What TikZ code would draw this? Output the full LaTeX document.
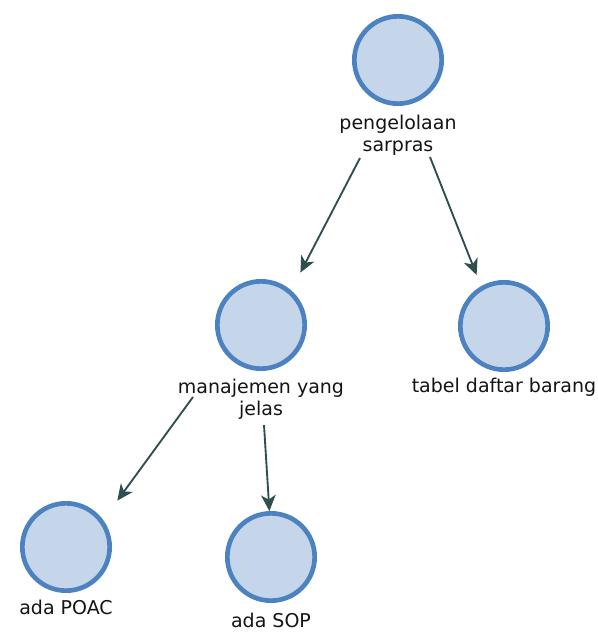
\documentclass[tikz,border=0pt]{standalone}
\usepackage{fontspec}
\setmainfont{DejaVu Sans}
\usetikzlibrary{arrows.meta,calc}

\definecolor{nodefill}{RGB}{197,214,234}
\definecolor{nodeline}{RGB}{76,130,192}
\definecolor{linkcol}{RGB}{47,79,79}
\definecolor{textcol}{RGB}{20,20,20}

\tikzset{every picture/.style={line width=0.75pt}}
\tikzset{
  bubble/.style={circle, draw=nodeline, fill=nodefill, line width=3.5pt, minimum size=65.5pt, inner sep=0pt},
  caption/.style={align=center, text=textcol, font=\fontsize{14.25pt}{16.5pt}\selectfont, inner sep=0pt},
  link/.style={draw=linkcol, line width=1.4pt, -{Stealth[length=12pt,width=11pt,inset=3.5pt]}}
}

\begin{document}
\begin{tikzpicture}[x=0.75pt,y=0.75pt,yscale=-1,xscale=1]
\useasboundingbox (0,0) rectangle (598,633);

%Shape: Circle [id:pengelolaan]
\node (c1) at (398,60) [bubble] {};
%Shape: Circle [id:manajemen]
\node (c2) at (261,325) [bubble] {};
%Shape: Circle [id:tabel]
\node (c3) at (504,326) [bubble] {};
%Shape: Circle [id:poac]
\node (c4) at (66,547) [bubble] {};
%Shape: Circle [id:sop]
\node (c5) at (271,557) [bubble] {};

% Text Node
\node (l1) at (398,135) [caption] {pengelolaan\\sarpras};
% Text Node
\node (l2) at (261,399) [caption] {manajemen yang\\jelas};
% Text Node
\node (l3) at (504,387) [caption] {tabel daftar barang};
% Text Node
\node (l4) at (66,607) [caption] {ada POAC};
% Text Node
\node (l5) at (271,620) [caption] {ada SOP};

%Straight Lines [id:links]
\draw [link, shorten >=15] ($(l1)+(-38,23)$) -- (c2.49);
\draw [link, shorten >=9] ($(l1)+(32,22)$) -- (c3.120);
\draw [link, shorten >=18] ($(l2)+(-68,-2)$) -- (c4.36);
\draw [link] ($(l2)+(3,26)$) -- (c5.92);

\end{tikzpicture}
\end{document}
